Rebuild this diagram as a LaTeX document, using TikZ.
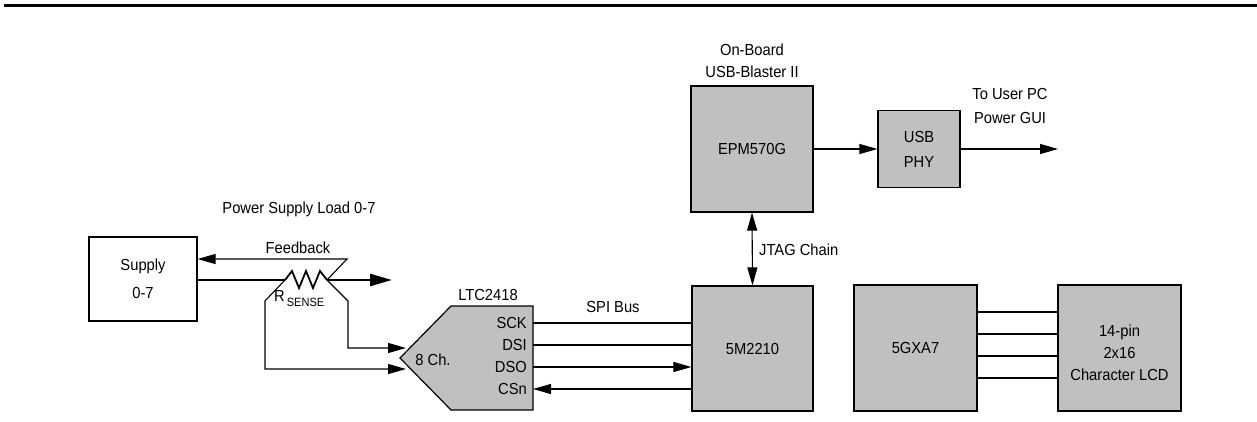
\documentclass[tikz,border=0pt]{standalone}
\usepackage{fontspec}
\setmainfont{Liberation Sans}[FakeStretch=0.92]
\usetikzlibrary{arrows.meta}
\definecolor{boxgray}{RGB}{192,192,192}
\begin{document}
\begin{tikzpicture}[x=1pt,y=-1pt,
  chip/.style={draw, line width=1.2pt, fill=boxgray, inner sep=0pt, align=center, font=\fontsize{16}{22}\selectfont},
  wbox/.style={draw, line width=1.2pt, fill=white, inner sep=0pt, align=center, font=\fontsize{16}{28}\selectfont},
  lbl/.style={inner sep=0pt, align=center, font=\fontsize{16}{22}\selectfont},
  wire/.style={line width=1.1pt},
  arr/.style={wire, -{Triangle[length=18pt,width=10pt]}},
  darr/.style={wire, {Triangle[length=18pt,width=10pt]}-{Triangle[length=18pt,width=10pt]}},
  thick wire/.style={line width=2.6pt},
]
\useasboundingbox (0,0) rectangle (1257,422);
\draw[line width=3pt] (4,6) -- (1257,6);

% boxes
\node[wbox, minimum width=108pt, minimum height=84pt] (supply) at (143,279) {Supply\\0-7};
\node[chip, minimum width=122pt, minimum height=126pt] (epm) at (752,149) {EPM570G};
\node[chip, minimum width=82pt, minimum height=77pt, font=\fontsize{16}{25}\selectfont] (phy) at (919,149) {USB\\PHY};
\node[chip, minimum width=121pt, minimum height=125pt] (m2210) at (752.5,348.5) {5M2210};
\node[chip, minimum width=123pt, minimum height=126pt] (gx) at (915.5,348) {5GXA7};
\node[chip, minimum width=123pt, minimum height=126pt] (lcd) at (1119.5,348) {};
\node[lbl] (lcdtext) at (1119.5,353) {14-pin\\2x16\\Character LCD};

% LTC2418 pentagon
\draw[line width=1.2pt, fill=boxgray] (400,358) -- (451,306) -- (533,306) -- (533,410) -- (451,410) -- cycle;
\coordinate (ltcin1) at (406,348);
\coordinate (ltcin2) at (406,369);
\node[lbl] (ltcname) at (488,295) {LTC2418};
\node[lbl] (ch) at (433,360) {8 Ch.};
\node[lbl, anchor=east] (sck) at (527,323) {SCK};
\node[lbl, anchor=east] (dsi) at (527,345) {DSI};
\node[lbl, anchor=east] (dso) at (527,367) {DSO};
\node[lbl, anchor=east] (csn) at (527,389) {CSn};
\coordinate (psck) at (533,323);
\coordinate (pdsi) at (533,345);
\coordinate (pdso) at (533,367);
\coordinate (pcsn) at (533,389);

% SPI bus
\draw[wire] (psck) -- (m2210.west |- psck);
\draw[wire] (pdsi) -- (m2210.west |- pdsi);
\draw[arr] (pdso) -- (m2210.west |- pdso);
\draw[arr] (m2210.west |- pcsn) -- (pcsn);
\node[lbl] (spi) at (613,307) {SPI Bus};

% JTAG
\draw[darr] (m2210.north) -- (epm.south);
\node[lbl, anchor=west] (jtag) at (759,250) {JTAG Chain};
\node[lbl] (onboard) at (752,50) {On-Board};
\node[lbl] (blaster) at (752,72) {USB-Blaster II};

% USB
\draw[arr] (epm.east |- phy.west) -- (phy.west);
\coordinate (pc) at (1058,149);
\draw[arr] (phy.east) -- (pc);
\node[lbl] (topc) at (1010,94) {To User PC};
\node[lbl] (gui) at (1010,118) {Power GUI};

% LCD lines
\foreach \yy in {312,334,356,378}{
  \draw[wire] (gx.east |- 0,\yy) -- (lcd.west |- 0,\yy);
}

% power path with sense resistor
\coordinate (rl) at (285,280);
\coordinate (rr) at (327,280);
\coordinate (load) at (392,280);
\draw[thick wire] (supply.east |- rl) -- (rl);
\draw[line width=1.8pt, line join=miter] (rl) -- (292,271) -- (299,288) -- (306,271) -- (313,288) -- (320,271) -- (rr);
\draw[thick wire, -{Triangle[length=22pt,width=12pt]}] (rr) -- (load);
\node[lbl] (pslabel) at (299,209) {Power Supply Load 0-7};
\node[lbl] (fb) at (298,248) {Feedback};
\node[lbl, anchor=west] (rsense) at (274,299) {R\raisebox{-5pt}{\fontsize{12}{12}\selectfont\,SENSE}};

% feedback
\draw[arr] (rr) -- (347,259) -- (supply.east |- 0,259);
% Kelvin sense lines
\draw[arr] (rr) -- (348,301) -- (348,348) -- (ltcin1);
\draw[arr] (rl) -- (265,301) -- (265,369) -- (ltcin2);
\end{tikzpicture}
\end{document}
